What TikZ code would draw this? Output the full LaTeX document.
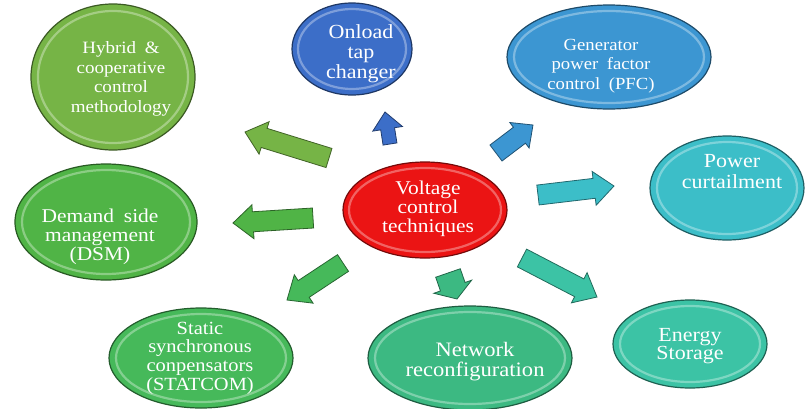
\documentclass[tikz,border=0pt]{standalone}
\usepackage{fontspec}
\setmainfont{Liberation Serif}[FakeStretch=1.1]
\usetikzlibrary{shapes.geometric,calc}

% fills of the bubbles and arrows
\definecolor{cHyb}{HTML}{76B446}
\definecolor{cTap}{HTML}{3C6EC8}
\definecolor{cPfc}{HTML}{3C96D2}
\definecolor{cCur}{HTML}{3CBEC8}
\definecolor{cSto}{HTML}{3CC3A5}
\definecolor{cNet}{HTML}{3CB982}
\definecolor{cSta}{HTML}{46B95A}
\definecolor{cDsm}{HTML}{50B446}
\definecolor{cVol}{HTML}{EB1414}

\newcommand\fsz[2]{\fontsize{#1}{#2}\selectfont}

% block arrow: tail, tip, half shaft width, half head width, head length, colour
\newcommand\blockarrow[6]{%
  \path ($(#2)!#5!(#1)$) coordinate (neck);
  \draw[fill=#6, draw=#6!55!black, line width=0.8pt, line join=miter]
    ($(#1)!#3!90:(#2)$) -- ($(neck)!#3!90:(#2)$) -- ($(neck)!#4!90:(#2)$) -- (#2)
    -- ($(neck)!#4!-90:(#2)$) -- ($(neck)!#3!-90:(#2)$) -- ($(#1)!#3!-90:(#2)$) -- cycle;
}

\tikzset{
  bubble/.style={ellipse, draw=#1!50!black, fill=#1, line width=1.2pt, inner sep=0pt},
  rim/.style={draw=#1!55!white, line width=2.2pt, opacity=0.75},
  txt/.style={align=center, text=white, inner sep=0pt},
}

\begin{document}
\begin{tikzpicture}[x=1pt, y=-1pt]
  \useasboundingbox (0,0) rectangle (806,408);
  \fill[white] (0,0) rectangle (806,408);

  % bubbles
  \node[bubble=cHyb, minimum width=164pt, minimum height=146pt] (hyb) at (113,77) {};
  \node[bubble=cTap, minimum width=120pt, minimum height=92pt]  (tap) at (352,49) {};
  \node[bubble=cPfc, minimum width=204pt, minimum height=104pt] (pfc) at (609,57) {};
  \node[bubble=cCur, minimum width=154pt, minimum height=104pt] (cur) at (727,188) {};
  \node[bubble=cDsm, minimum width=182pt, minimum height=116pt] (dsm) at (106,222) {};
  \node[bubble=cVol, minimum width=164pt, minimum height=96pt]  (vol) at (425,210) {};
  \node[bubble=cSta, minimum width=184pt, minimum height=100pt] (sta) at (201,358) {};
  \node[bubble=cNet, minimum width=204pt, minimum height=104pt] (net) at (470,358) {};
  \node[bubble=cSto, minimum width=154pt, minimum height=88pt]  (sto) at (690,344) {};

  % inner bevel rims
  \draw[rim=cHyb] (hyb.center) ellipse [x radius=75pt, y radius=66pt];
  \draw[rim=cTap] (tap.center) ellipse [x radius=54pt, y radius=40pt];
  \draw[rim=cPfc] (pfc.center) ellipse [x radius=95pt, y radius=46pt];
  \draw[rim=cCur] (cur.center) ellipse [x radius=70pt, y radius=46pt];
  \draw[rim=cDsm] (dsm.center) ellipse [x radius=84pt, y radius=52pt];
  \draw[rim=cVol] (vol.center) ellipse [x radius=76pt, y radius=42pt];
  \draw[rim=cSta] (sta.center) ellipse [x radius=85pt, y radius=44pt];
  \draw[rim=cNet] (net.center) ellipse [x radius=95pt, y radius=46pt];
  \draw[rim=cSto] (sto.center) ellipse [x radius=70pt, y radius=38pt];

  % labels
  \node[txt, font=\fsz{17.3}{19.5}] (hybT) at (121,79) {Hybrid\enspace\&\\cooperative\\control\\methodology};
  \node[txt, font=\fsz{20}{20}]     (tapT) at (361,54) {Onload\\tap\\changer};
  \node[txt, font=\fsz{17}{19.5}]   (pfcT) at (601,66) {Generator\\power\enspace factor\\control\enspace(PFC)};
  \node[txt, font=\fsz{20}{21}]     (curT) at (732,172) {Power\\curtailment};
  \node[txt, font=\fsz{19.5}{19}]   (volT) at (428,209) {Voltage\\control\\techniques};
  \node[txt, font=\fsz{19.5}{19}]   (dsmT) at (100,237) {Demand\enspace side\\management\\(DSM)};
  \node[txt, font=\fsz{18.6}{18.7}] (staT) at (200,358) {Static\\synchronous\\conpensators\\(STATCOM)};
  \node[txt, font=\fsz{20.5}{20}]   (netT) at (475,362) {Network\\reconfiguration};
  \node[txt, font=\fsz{20}{18.5}]   (stoT) at (690,346) {Energy\\Storage};

  % arrow ends
  \coordinate (hybA) at (329,158); \coordinate (hybB) at (245,132);
  \coordinate (tapA) at (390,144); \coordinate (tapB) at (385,112);
  \coordinate (pfcA) at (496,153); \coordinate (pfcB) at (533,125);
  \coordinate (curA) at (538,195); \coordinate (curB) at (614,186);
  \coordinate (dsmA) at (313,218); \coordinate (dsmB) at (233,223);
  \coordinate (staA) at (343,263); \coordinate (staB) at (287,300);
  \coordinate (netA) at (448,273); \coordinate (netB) at (457,299);
  \coordinate (stoA) at (522,258); \coordinate (stoB) at (597,297);

  % arrows from the centre outwards
  \blockarrow{hybA}{hybB}{10pt}{17pt}{20pt}{cHyb}
  \blockarrow{tapA}{tapB}{7pt}{15pt}{17pt}{cTap}
  \blockarrow{pfcA}{pfcB}{10pt}{16pt}{17pt}{cPfc}
  \blockarrow{curA}{curB}{10pt}{17pt}{20pt}{cCur}
  \blockarrow{dsmA}{dsmB}{10pt}{17pt}{20pt}{cDsm}
  \blockarrow{staA}{staB}{10pt}{17pt}{20pt}{cSta}
  \blockarrow{netA}{netB}{13pt}{20pt}{13pt}{cNet}
  \blockarrow{stoA}{stoB}{10pt}{17pt}{20pt}{cSto}
\end{tikzpicture}
\end{document}
